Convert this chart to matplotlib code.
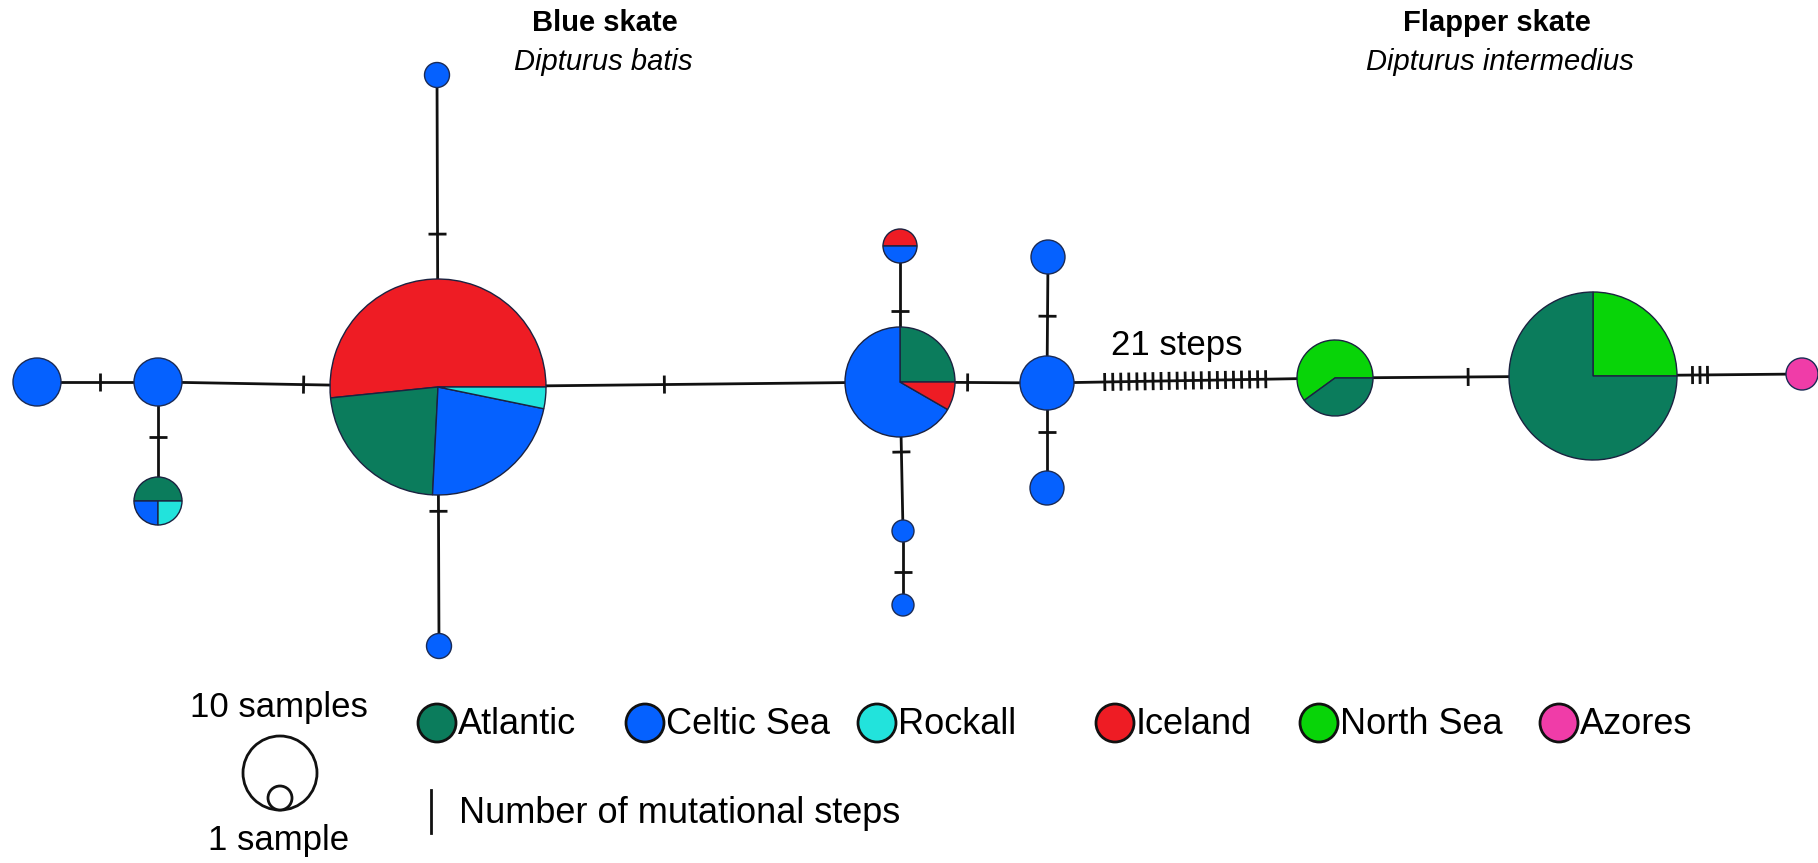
import matplotlib
matplotlib.use("Agg")
import matplotlib.pyplot as plt
from matplotlib.patches import Wedge, Circle
import numpy as np

plt.rcParams['font.family'] = ['Liberation Sans', 'DejaVu Sans']

# ---------------- data ----------------
regions = ["Atlantic", "Celtic Sea", "Rockall", "Iceland", "North Sea", "Azores"]
region_colors = ["#0b7c5c", "#0561ff", "#22e3dc", "#ee1c24", "#08d408", "#f03ca8"]

hap_ids = ["A", "B", "C", "D", "D_up", "D_down", "E", "E_up", "E_dn1", "E_dn2",
           "F", "F_up", "F_dn", "G", "H", "I"]
# regions present in each haplotype (drawn counter-clockwise from east) and counts
hap_regions = [["Celtic Sea"], ["Celtic Sea"], ["Atlantic", "Celtic Sea", "Rockall"],
               ["Iceland", "Atlantic", "Celtic Sea", "Rockall"], ["Celtic Sea"], ["Celtic Sea"],
               ["Atlantic", "Celtic Sea", "Iceland"], ["Iceland", "Celtic Sea"],
               ["Celtic Sea"], ["Celtic Sea"], ["Celtic Sea"], ["Celtic Sea"], ["Celtic Sea"],
               ["North Sea", "Atlantic"], ["North Sea", "Atlantic"], ["Azores"]]
hap_counts = [[1], [1], [2, 1, 1], [16, 7, 7, 1], [1], [1], [3, 8, 1], [1, 1],
              [1], [1], [1], [1], [1], [3, 2], [4, 12], [1]]

edge_from = ["A", "B", "B", "D", "D", "D", "E", "E", "E_dn1", "E", "F", "F", "F", "G", "H"]
edge_to = ["B", "C", "D", "D_up", "D_down", "E", "E_up", "E_dn1", "E_dn2", "F", "F_up", "F_dn", "G", "H", "I"]
edge_steps = [1, 1, 1, 1, 1, 1, 1, 1, 1, 1, 1, 1, 21, 1, 3]

# ---------------- layout (pixel space) ----------------
node_x = [37, 158, 158, 438, 437, 439, 900, 900, 903, 903, 1047, 1048, 1047, 1335, 1593, 1802]
node_y = [382, 382, 501, 387, 75, 646, 382, 246, 531, 605, 383, 257, 488, 378, 376, 374]
node_r = [24, 24, 24, 108, 12.5, 12.5, 55, 17, 11, 11, 27, 17, 17, 38, 84, 16]
tick_t = [0.52, 0.46, 0.52, 0.49, 0.48, 0.49, 0.52, 0.47, 0.55, 0.46, 0.53, 0.47, 0.48, 0.516, 0.512]
tick_gap = [0, 0, 0, 0, 0, 0, 0, 0, 0, 0, 0, 0, 8.05, 0, 7.5]

W, H = 1818, 863
fig = plt.figure(figsize=(W / 100, H / 100), dpi=100)
ax = fig.add_axes([0, 0, 1, 1])
ax.set_xlim(0, W)
ax.set_ylim(H, 0)
ax.set_aspect('equal')
ax.axis('off')

col = dict(zip(regions, region_colors))
pos = {h: (x, y) for h, x, y in zip(hap_ids, node_x, node_y)}
rad = dict(zip(hap_ids, node_r))

LW = 2.0
TICK = 18
for a, b, n, t, g in zip(edge_from, edge_to, edge_steps, tick_t, tick_gap):
    (x0, y0), (x1, y1) = pos[a], pos[b]
    ax.plot([x0, x1], [y0, y1], color='#111111', lw=LW, zorder=1, solid_capstyle='butt')
    L = np.hypot(x1 - x0, y1 - y0)
    ux, uy = (x1 - x0) / L, (y1 - y0) / L
    px, py = -uy, ux
    cx, cy = x0 + t * (x1 - x0), y0 + t * (y1 - y0)
    for k in range(n):
        off = (k - (n - 1) / 2) * g
        tx, ty = cx + off * ux, cy + off * uy
        ax.plot([tx - px * TICK / 2, tx + px * TICK / 2], [ty - py * TICK / 2, ty + py * TICK / 2],
                color='#111111', lw=LW, zorder=2, solid_capstyle='butt')

# pies (screen angles counter-clockwise from east; y axis is inverted)
for h, regs, cnts in zip(hap_ids, hap_regions, hap_counts):
    x, y = pos[h]
    r = rad[h]
    tot = float(sum(cnts))
    if len(cnts) == 1:
        ax.add_patch(Circle((x, y), r, facecolor=col[regs[0]], edgecolor='#1b2b55', lw=1.0, zorder=3))
        continue
    a0 = 0.0
    for rg, c in zip(regs, cnts):
        a1 = a0 + 360.0 * c / tot
        ax.add_patch(Wedge((x, y), r, -a1, -a0, facecolor=col[rg], edgecolor='#1b2240',
                           lw=1.0, zorder=3))
        a0 = a1

# titles
ax.text(605, 23, "Blue skate", ha='center', va='center', fontsize=21, fontweight='bold')
ax.text(603, 62, "Dipturus batis", ha='center', va='center', fontsize=21, style='italic')
ax.text(1497, 23, "Flapper skate", ha='center', va='center', fontsize=21, fontweight='bold')
ax.text(1500, 62, "Dipturus intermedius", ha='center', va='center', fontsize=21, style='italic')
ax.text(1177, 345, "21 steps", ha='center', va='center', fontsize=25)

# legend: regions
leg_x = [437, 645, 877, 1115, 1319, 1559]
for rg, lx in zip(regions, leg_x):
    ax.add_patch(Circle((lx, 723), 19, facecolor=col[rg], edgecolor='#111111', lw=2.0, zorder=3))
    ax.text(lx + 21, 724, rg, ha='left', va='center', fontsize=26)

# legend: size
ax.add_patch(Circle((280, 773), 37, facecolor='white', edgecolor='#111111', lw=2.0, zorder=3))
ax.add_patch(Circle((280, 798), 12, facecolor='white', edgecolor='#111111', lw=2.0, zorder=4))
ax.text(279, 707, "10 samples", ha='center', va='center', fontsize=25)
ax.text(279, 840, "1 sample", ha='center', va='center', fontsize=25)

# legend: mutation step
ax.plot([431, 431], [790, 833], color='#111111', lw=2.0)
ax.text(459, 813, "Number of mutational steps", ha='left', va='center', fontsize=26)

fig.savefig("out.png", dpi=100, facecolor='white')
